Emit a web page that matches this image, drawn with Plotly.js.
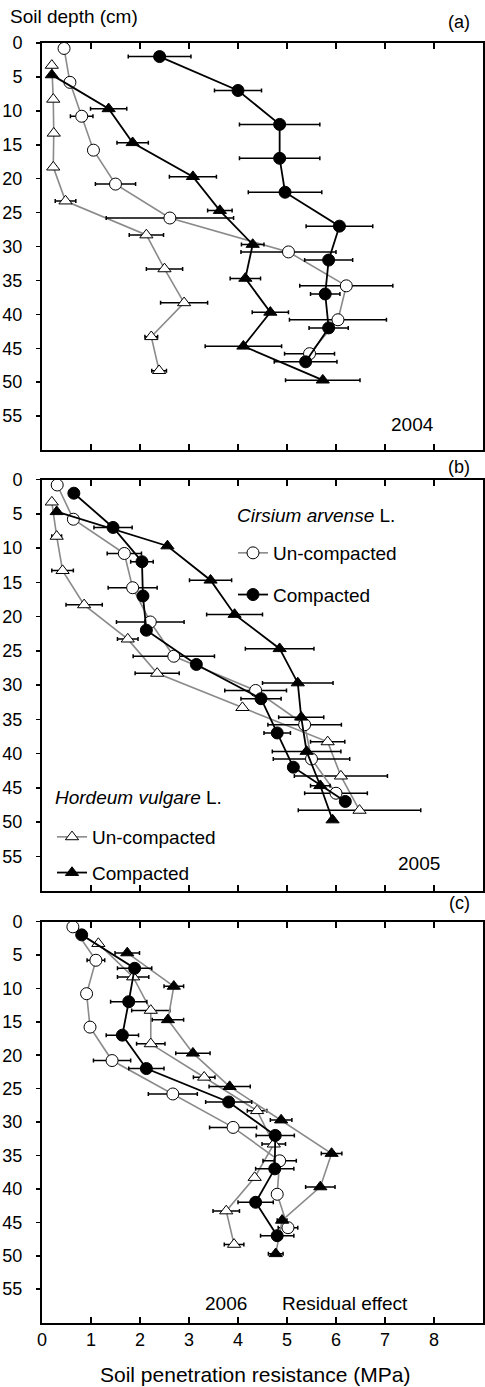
<!DOCTYPE html>
<html>
<head>
<meta charset="utf-8">
<script src="https://cdn.plot.ly/plotly-3.0.1.min.js"></script>
<style>
html,body{margin:0;padding:0;background:#fff;}
#chart{width:485px;height:1387px;}
</style>
</head>
<body>
<div id="chart"></div>
<script>
// ---------- Depths (cm) of each series ----------
const depthCirsiumUC = [0.8, 5.8, 10.8, 15.8, 20.8, 25.8, 30.8, 35.8, 40.8, 45.8];
const depthCirsiumC  = [2, 7, 12, 17, 22, 27, 32, 37, 42, 47];
const depthHordeumUC = [3.3, 8.3, 13.3, 18.3, 23.3, 28.3, 33.3, 38.3, 43.3, 48.3];
const depthHordeumC  = [4.7, 9.7, 14.7, 19.7, 24.7, 29.7, 34.7, 39.7, 44.7, 49.7];

// ---------- 2004 (a) ----------
const cirsUC2004    = [0.45, 0.57, 0.81, 1.05, 1.50, 2.61, 5.03, 6.21, 6.04, 5.46];
const cirsUC2004Err = [0, 0, 0.23, 0, 0.41, 1.30, 0.97, 0.95, 0.99, 0.51];
const cirsC2004     = [2.40, 4.00, 4.85, 4.85, 4.96, 6.07, 5.85, 5.78, 5.85, 5.38];
const cirsC2004Err  = [0.64, 0.48, 0.82, 0.82, 0.75, 0.68, 0.49, 0.30, 0.40, 0.64];
const hordUC2004    = [0.20, 0.23, 0.24, 0.23, 0.48, 2.13, 2.50, 2.90, 2.23, 2.39];
const hordUC2004Err = [0.05, 0.05, 0.05, 0.05, 0.21, 0.35, 0.37, 0.48, 0.13, 0.15];
const hordC2004     = [0.20, 1.36, 1.85, 3.08, 3.63, 4.30, 4.15, 4.66, 4.11, 5.73];
const hordC2004Err  = [0, 0.37, 0.32, 0.48, 0.25, 0.23, 0.31, 0.37, 0.78, 0.76];

// ---------- 2005 (b) ----------
const cirsUC2005    = [0.31, 0.64, 1.68, 1.85, 2.21, 2.69, 4.36, 5.36, 5.50, 6.00];
const cirsUC2005Err = [0, 0, 0.35, 0.50, 0.69, 0.83, 0.63, 0.75, 0.78, 0.64];
const cirsC2005     = [0.65, 1.45, 2.04, 2.06, 2.13, 3.15, 4.47, 4.80, 5.13, 6.19];
const cirsC2005Err  = [0, 0.39, 0.23, 0.10, 0.10, 0, 0.41, 0.27, 0.10, 0.10];
const hordUC2005    = [0.20, 0.30, 0.42, 0.86, 1.75, 2.35, 4.09, 5.83, 6.10, 6.48];
const hordUC2005Err = [0, 0.10, 0.22, 0.37, 0.21, 0.45, 0, 0.35, 0.95, 1.25];
const hordC2005     = [0.30, 2.56, 3.44, 3.93, 4.85, 5.22, 5.29, 5.40, 5.68, 5.93];
const hordC2005Err  = [0, 0, 0.43, 0.57, 0.70, 0.72, 0.46, 0.70, 0.20, 0];

// ---------- 2006 residual effect (c) ----------
const cirsUC2006    = [0.63, 1.10, 0.91, 0.98, 1.43, 2.67, 3.90, 4.85, 4.80, 5.02];
const cirsUC2006Err = [0, 0.18, 0, 0, 0.38, 0.50, 0.48, 0.34, 0.05, 0.20];
const cirsC2006     = [0.81, 1.89, 1.77, 1.64, 2.13, 3.81, 4.76, 4.75, 4.36, 4.80];
const cirsC2006Err  = [0, 0.35, 0.37, 0.33, 0.36, 0.47, 0.39, 0.39, 0.36, 0.34];
const hordUC2006    = [1.15, 1.86, 2.22, 2.22, 3.31, 4.39, 4.73, 4.34, 3.76, 3.92];
const hordUC2006Err = [0, 0.32, 0.39, 0.29, 0.22, 0.20, 0.24, 0, 0.27, 0.20];
const hordC2006     = [1.74, 2.69, 2.57, 3.08, 3.83, 4.88, 5.91, 5.68, 4.90, 4.77];
const hordC2006Err  = [0.25, 0.20, 0.32, 0.35, 0.42, 0.22, 0.21, 0.30, 0.10, 0.15];

// ---------- Ticks & labels ----------
const xTicks = [0, 1, 2, 3, 4, 5, 6, 7, 8];
const yTicks = [0, 5, 10, 15, 20, 25, 30, 35, 40, 45, 50, 55];
const labelUC = 'Un-compacted';
const labelC = 'Compacted';
const cirsiumTitle = '<i>Cirsium arvense</i> L.';
const hordeumTitle = '<i>Hordeum vulgare</i> L.';
const yTitle = 'Soil depth (cm)';
const xTitle = 'Soil penetration resistance (MPa)';

// ---------- Styling / geometry ----------
const W = 485, H = 1387, L = 42, R = 2;
const PW = W - L - R;
const FONT = 'Liberation Sans, Arial, sans-serif';
const GRAY = '#8a8a8a';
const px2x = p => (p - L) / PW;
const py2y = p => 1 - p / H;
const domA = [py2y(450), py2y(43)];
const domB = [py2y(890.5), py2y(479.5)];
const domC = [py2y(1322.6), py2y(921.5)];

function series(x, err, depth, ax, symbol, filled, lineColor, name, legendId, show) {
  return {
    type: 'scatter', mode: 'lines+markers',
    x: x, y: depth, xaxis: ax[0], yaxis: ax[1],
    name: name, showlegend: show, legend: legendId, legendgroup: legendId + name,
    line: {color: lineColor, width: lineColor === GRAY ? 1.6 : 1.8},
    marker: {symbol: symbol, size: symbol === 'circle' ? 12 : 11.5,
             color: filled ? '#000' : '#fff', line: {color: '#000', width: 1}},
    error_x: {type: 'data', array: err, color: '#000', thickness: 1.5, width: 2},
    cliponaxis: false
  };
}

const axA = ['x', 'y'], axB = ['x2', 'y2'], axC = ['x3', 'y3'];
const data = [
  // (a) 2004
  series(hordUC2004, hordUC2004Err, depthHordeumUC, axA, 'triangle-up', false, GRAY, labelUC, 'legend2', false),
  series(cirsUC2004, cirsUC2004Err, depthCirsiumUC, axA, 'circle', false, GRAY, labelUC, 'legend', false),
  series(hordC2004, hordC2004Err, depthHordeumC, axA, 'triangle-up', true, '#000', labelC, 'legend2', false),
  series(cirsC2004, cirsC2004Err, depthCirsiumC, axA, 'circle', true, '#000', labelC, 'legend', false),
  // (b) 2005
  series(hordUC2005, hordUC2005Err, depthHordeumUC, axB, 'triangle-up', false, GRAY, labelUC, 'legend2', true),
  series(cirsUC2005, cirsUC2005Err, depthCirsiumUC, axB, 'circle', false, GRAY, labelUC, 'legend', true),
  series(hordC2005, hordC2005Err, depthHordeumC, axB, 'triangle-up', true, '#000', labelC, 'legend2', true),
  series(cirsC2005, cirsC2005Err, depthCirsiumC, axB, 'circle', true, '#000', labelC, 'legend', true),
  // (c) 2006
  series(hordUC2006, hordUC2006Err, depthHordeumUC, axC, 'triangle-up', false, GRAY, labelUC, 'legend2', false),
  series(cirsUC2006, cirsUC2006Err, depthCirsiumUC, axC, 'circle', false, GRAY, labelUC, 'legend', false),
  series(hordC2006, hordC2006Err, depthHordeumC, axC, 'triangle-up', true, GRAY, labelC, 'legend2', false),
  series(cirsC2006, cirsC2006Err, depthCirsiumC, axC, 'circle', true, '#000', labelC, 'legend', false)
];

function xAxis(anchor, labels) {
  return {
    domain: [0, 1], anchor: anchor, range: [0, 9], tickvals: xTicks, ticktext: xTicks.map(String),
    ticks: 'inside', ticklen: 6, tickwidth: 1.5, tickcolor: '#000',
    showline: true, linewidth: 2, linecolor: '#000', mirror: 'ticks',
    showgrid: false, zeroline: false, showticklabels: labels,
    tickfont: {family: FONT, size: 18, color: '#000'}, automargin: false, fixedrange: true
  };
}
function yAxis(anchor, dom) {
  return {
    domain: dom, anchor: anchor, range: [60, 0], tickvals: yTicks, ticktext: yTicks.map(String),
    ticks: 'outside', ticklen: 4, tickwidth: 1.5, tickcolor: '#000',
    showline: true, linewidth: 2, linecolor: '#000', mirror: true,
    showgrid: false, zeroline: false, ticklabelstandoff: 10,
    tickfont: {family: FONT, size: 18, color: '#000'}, automargin: false, fixedrange: true
  };
}
function yRight(over, anchor) {
  return {
    overlaying: over, anchor: anchor, side: 'right', range: [60, 0], tickvals: yTicks,
    ticks: 'inside', ticklen: 5, tickwidth: 1.5, tickcolor: '#000',
    showline: false, showgrid: false, zeroline: false, showticklabels: false, fixedrange: true
  };
}

function ann(text, x, y, xanchor, size) {
  return {text: text, xref: 'paper', yref: 'paper', x: px2x(x), y: py2y(y),
          xanchor: xanchor, yanchor: 'middle', showarrow: false,
          font: {family: FONT, size: size, color: '#000'}};
}

const legendCommon = {
  bgcolor: 'rgba(0,0,0,0)', borderwidth: 0, traceorder: 'grouped',
  font: {family: FONT, size: 19, color: '#000'}, itemwidth: 30,
  xanchor: 'left', yanchor: 'top', itemclick: false, itemdoubleclick: false
};

const layout = {
  width: W, height: H,
  margin: {l: L, r: R, t: 0, b: 0, pad: 0},
  paper_bgcolor: '#fff', plot_bgcolor: 'rgba(0,0,0,0)',
  font: {family: FONT, size: 18, color: '#000'},
  xaxis: xAxis('y', false), yaxis: yAxis('x', domA),
  xaxis2: xAxis('y2', false), yaxis2: yAxis('x2', domB),
  xaxis3: xAxis('y3', true), yaxis3: yAxis('x3', domC),
  yaxis4: yRight('y', 'x'), yaxis5: yRight('y2', 'x2'), yaxis6: yRight('y3', 'x3'),
  legend: Object.assign({}, legendCommon, {x: px2x(233), y: py2y(534), tracegroupgap: 14}),
  legend2: Object.assign({}, legendCommon, {x: px2x(52), y: py2y(818), tracegroupgap: 8}),
  annotations: [
    ann(yTitle, 8, 17, 'left', 19),
    ann('(a)', 459, 22, 'center', 18),
    ann('(b)', 459, 467, 'center', 18),
    ann('(c)', 459, 903, 'center', 18),
    ann('2004', 412, 425, 'center', 19),
    ann('2005', 419, 863, 'center', 19),
    ann('2006', 226, 1303, 'center', 19),
    ann('Residual effect', 345, 1303, 'center', 19),
    ann(cirsiumTitle, 235, 515, 'left', 19),
    ann(hordeumTitle, 53, 797, 'left', 19),
    ann(xTitle, 255, 1374, 'center', 21)
  ],
  showlegend: true
};

Plotly.newPlot('chart', data, layout, {staticPlot: true, displayModeBar: false});
</script>
</body>
</html>
